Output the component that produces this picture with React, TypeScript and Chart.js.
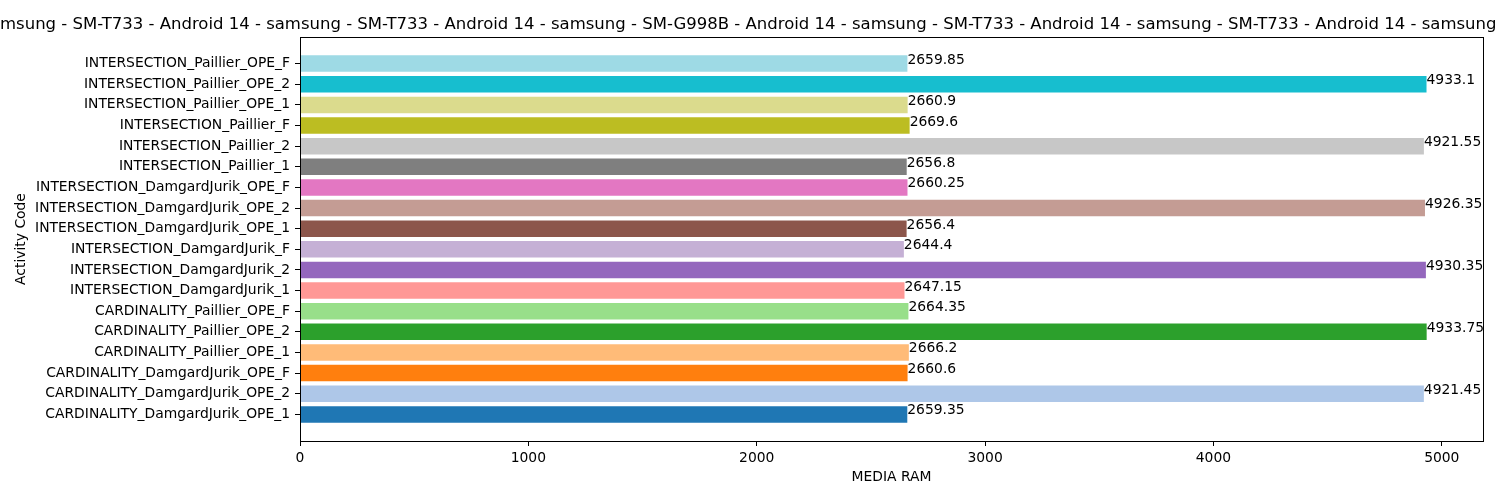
import React, { useEffect, useRef } from 'react';
import { Chart, registerables } from 'chart.js';

Chart.register(...registerables);

const categories = [
  'CARDINALITY_DamgardJurik_OPE_1',
  'CARDINALITY_DamgardJurik_OPE_2',
  'CARDINALITY_DamgardJurik_OPE_F',
  'CARDINALITY_Paillier_OPE_1',
  'CARDINALITY_Paillier_OPE_2',
  'CARDINALITY_Paillier_OPE_F',
  'INTERSECTION_DamgardJurik_1',
  'INTERSECTION_DamgardJurik_2',
  'INTERSECTION_DamgardJurik_F',
  'INTERSECTION_DamgardJurik_OPE_1',
  'INTERSECTION_DamgardJurik_OPE_2',
  'INTERSECTION_DamgardJurik_OPE_F',
  'INTERSECTION_Paillier_1',
  'INTERSECTION_Paillier_2',
  'INTERSECTION_Paillier_F',
  'INTERSECTION_Paillier_OPE_1',
  'INTERSECTION_Paillier_OPE_2',
  'INTERSECTION_Paillier_OPE_F',
];

const ramValues = [
  2659.35, 4921.45, 2660.6, 2666.2, 4933.75, 2664.35,
  2647.15, 4930.35, 2644.4, 2656.4, 4926.35, 2660.25,
  2656.8, 4921.55, 2669.6, 2660.9, 4933.1, 2659.85,
];

const barColors = [
  '#1f77b4', '#aec7e8', '#ff7f0e', '#ffbb78', '#2ca02c', '#98df8a',
  '#ff9896', '#9467bd', '#c5b0d5', '#8c564b', '#c49c94', '#e377c2',
  '#7f7f7f', '#c7c7c7', '#bcbd22', '#dbdb8d', '#17becf', '#9edae5',
];

const xTickValues = [0, 1000, 2000, 3000, 4000, 5000];

const titleHiddenPrefix = 'Android 14 - samsung - SM-T733 - Android 14 - sa';
const titleVisible =
  'msung - SM-T733 - Android 14 - samsung - SM-T733 - Android 14 - samsung - SM-G998B - Android 14 - samsung - SM-T733 - Android 14 - samsung - SM-T733 - Android 14 - samsung';
const titleHiddenSuffix = ' - SM-T733 - Android 14 - samsung - SM-T733 - Android 14';

const xAxisTitle = 'MEDIA RAM';
const yAxisTitle = 'Activity Code';

const FONT = "'DejaVu Sans', sans-serif";

const overlayPlugin = {
  id: 'overlay',
  afterDraw(chart: any) {
    const { ctx, chartArea: a, scales } = chart;
    ctx.save();
    // frame (spines)
    ctx.strokeStyle = '#000';
    ctx.lineWidth = 1;
    ctx.strokeRect(Math.round(a.left) + 0.5, Math.round(a.top) + 0.5, Math.round(a.right - a.left), Math.round(a.bottom - a.top));
    // value labels
    ctx.fillStyle = '#000';
    ctx.font = `13.89px ${FONT}`;
    ctx.textAlign = 'left';
    ctx.textBaseline = 'alphabetic';
    ramValues.forEach((v, i) => {
      const x = scales.x.getPixelForValue(v);
      const y = scales.y.getPixelForValue(i);
      ctx.fillText(String(v), x, y);
    });
    // title (centered text clipped by canvas edges)
    ctx.font = `16.5px ${FONT}`;
    const preW = ctx.measureText(titleHiddenPrefix).width;
    ctx.fillText(titleHiddenPrefix + titleVisible + titleHiddenSuffix, -preW, 28.5);
    ctx.restore();
  },
};

export default function App() {
  const canvasRef = useRef<HTMLCanvasElement | null>(null);

  useEffect(() => {
    if (!canvasRef.current) return;
    Chart.defaults.font.family = FONT;
    Chart.defaults.color = '#000';
    const chart = new Chart(canvasRef.current, {
      type: 'bar',
      data: {
        datasets: [
          {
            label: 'MEDIA RAM',
            data: ramValues.map((v, i) => ({ x: v, y: i })),
            backgroundColor: barColors,
            borderWidth: 0,
            barPercentage: 0.8,
            categoryPercentage: 1,
          },
        ],
      },
      options: {
        indexAxis: 'y',
        animation: false,
        responsive: false,
        maintainAspectRatio: false,
        layout: { padding: { top: 37, right: 17, left: 0, bottom: 0 } },
        plugins: {
          legend: { display: false },
          tooltip: { enabled: false },
          title: { display: false },
        },
        scales: {
          x: {
            type: 'linear',
            min: 0,
            max: 5180.44,
            offset: false,
            afterBuildTicks: (scale: any) => {
              scale.ticks = xTickValues.map((v) => ({ value: v }));
            },
            afterFit: (scale: any) => {
              scale.height = 59;
            },
            ticks: {
              color: '#000',
              font: { size: 13.89 },
              padding: 4,
              maxRotation: 0,
              autoSkip: false,
              callback: (value: any) => String(value),
            },
            grid: {
              display: true,
              offset: false,
              drawOnChartArea: false,
              drawTicks: true,
              tickLength: 5,
              color: '#000',
              tickColor: '#000',
              tickWidth: 1,
            },
            border: { display: false },
            title: {
              display: true,
              text: xAxisTitle,
              color: '#000',
              font: { size: 13.89 },
              padding: { top: 0, bottom: 14.7 },
            },
          },
          y: {
            type: 'linear',
            min: -1.29,
            max: 18.29,
            offset: false,
            afterBuildTicks: (scale: any) => {
              scale.ticks = categories.map((_, i) => ({ value: i }));
            },
            afterFit: (scale: any) => {
              scale.width = 300;
            },
            ticks: {
              color: '#000',
              font: { size: 13.89 },
              padding: 5,
              autoSkip: false,
              callback: (value: any) => categories[Number(value)] ?? '',
            },
            grid: {
              display: true,
              offset: false,
              drawOnChartArea: false,
              drawTicks: true,
              tickLength: 5,
              color: '#000',
              tickColor: '#000',
              tickWidth: 1,
            },
            border: { display: false },
            title: {
              display: true,
              text: yAxisTitle,
              color: '#000',
              font: { size: 13.89 },
              padding: { top: 12.7, bottom: 0 },
            },
          },
        },
      },
      plugins: [overlayPlugin],
    } as any);
    return () => chart.destroy();
  }, []);

  return (
    <div style={{ position: 'absolute', left: 0, top: 0, width: 1500, height: 500, background: '#fff' }}>
      <canvas ref={canvasRef} width={1500} height={500} style={{ display: 'block' }} />
    </div>
  );
}
